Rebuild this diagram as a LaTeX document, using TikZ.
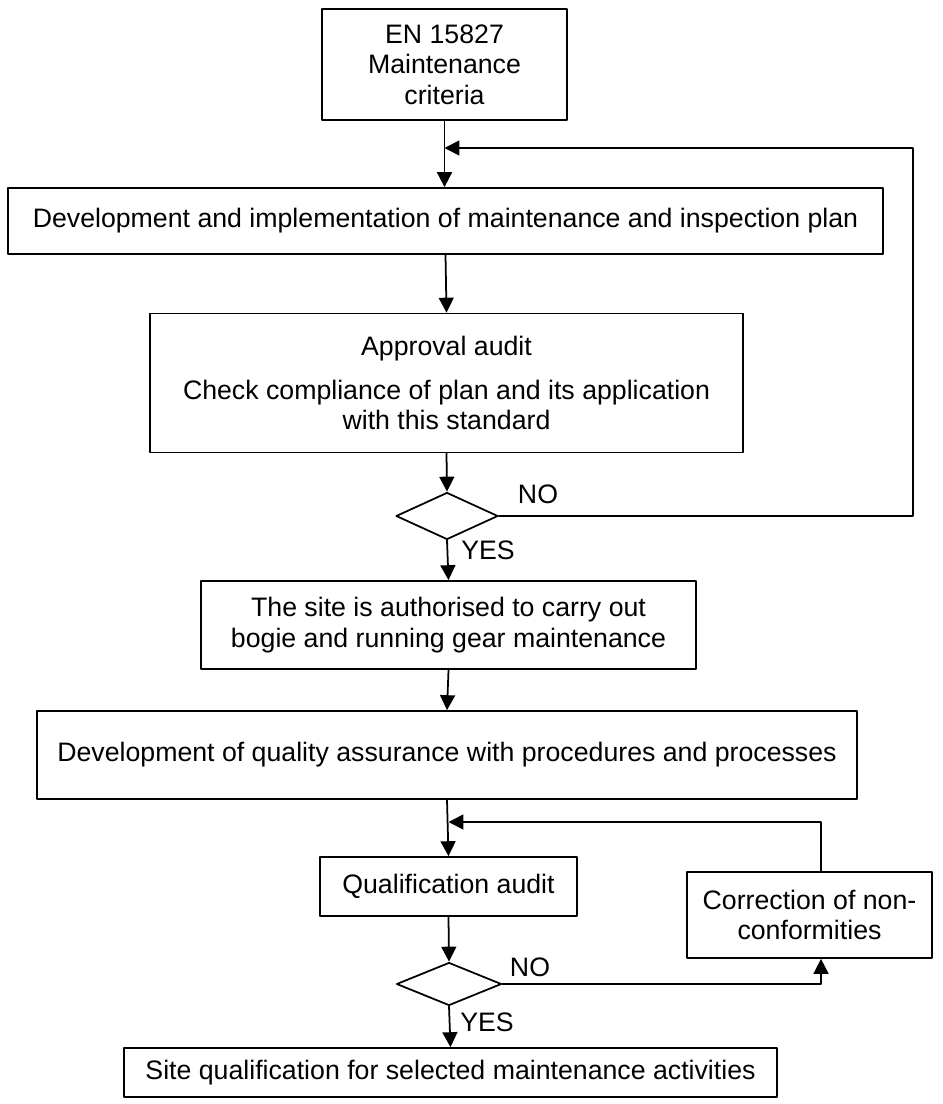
\documentclass[tikz,border=0pt]{standalone}
\usepackage{fontspec}
\setmainfont{Liberation Sans}
\usepackage{tikz}
\usetikzlibrary{arrows.meta,shapes.geometric}
\tikzset{box/.style={draw,rectangle,align=center,inner sep=0pt},
  test/.style={draw,diamond,inner sep=0pt},
  lbl/.style={inner sep=0pt}}
\begin{document}
\begin{tikzpicture}[line cap=round,line join=round,>={Triangle[length=8.5pt,width=8.5pt]},x=0.02cm,y=-0.02cm,line width=1pt,font=\fontsize{15.2}{17.3}\selectfont]
\useasboundingbox (0,0) rectangle (942,1104);
\node[box,minimum width=4.9cm,minimum height=2.22cm] (crit) at (444.5,64.5) {EN 15827\\Maintenance\\criteria};
\node[box,minimum width=17.5cm,minimum height=1.32cm] (plan) at (445.5,221) {Development and implementation of maintenance and inspection plan};
\node[box,minimum width=11.86cm,minimum height=2.78cm] (appr) at (446.5,383) {Approval audit\\[8pt]Check compliance of plan and its application\\with this standard};
\node[test,minimum width=2.04cm,minimum height=0.94cm] (dec1) at (447,516) {};
\node[box,minimum width=9.9cm,minimum height=1.76cm] (auth) at (448.5,625) {The site is authorised to carry out\\bogie and running gear maintenance};
\node[box,minimum width=16.4cm,minimum height=1.76cm] (qa) at (447,755) {Development of quality assurance with procedures and processes};
\node[box,minimum width=5.14cm,minimum height=1.18cm] (qual) at (448.5,886.5) {Qualification audit};
\node[box,minimum width=4.9cm,minimum height=1.72cm] (corr) at (809.5,915) {Correction of non-\\conformities};
\node[test,minimum width=2.1cm,minimum height=0.86cm] (dec2) at (449,984) {};
\node[box,minimum width=13.06cm,minimum height=0.98cm] (site) at (450.5,1072.5) {Site qualification for selected maintenance activities};
\node[lbl] (no1) at (538,494) {NO};
\node[lbl] (yes1) at (488,550) {YES};
\node[lbl] (no2) at (530,967) {NO};
\node[lbl] (yes2) at (487,1022) {YES};
\coordinate (fb1) at (913,148);
\coordinate (fb2) at (821,822);
\draw [->] (crit.south)-- (crit.south |- plan.north);
\draw [->] (plan.south)-- (appr.north);
\draw [->] (appr.south)-- (dec1.north);
\draw [->] (dec1.south)-- (auth.north);
\draw [->] (dec1.east) -| (fb1) -- (fb1 -| crit.south);
\draw [->] (auth.south)-- (qa.north);
\draw [->] (qa.south)-- (qual.north);
\draw [->] (qual.south)-- (dec2.north);
\draw [->] (dec2.south)-- (site.north);
\draw [->] (dec2.east) -| (fb2 |- corr.south);
\draw [->] (fb2 |- corr.north)-- (fb2) -- (fb2 -| qual.north);
\end{tikzpicture}
\end{document}
